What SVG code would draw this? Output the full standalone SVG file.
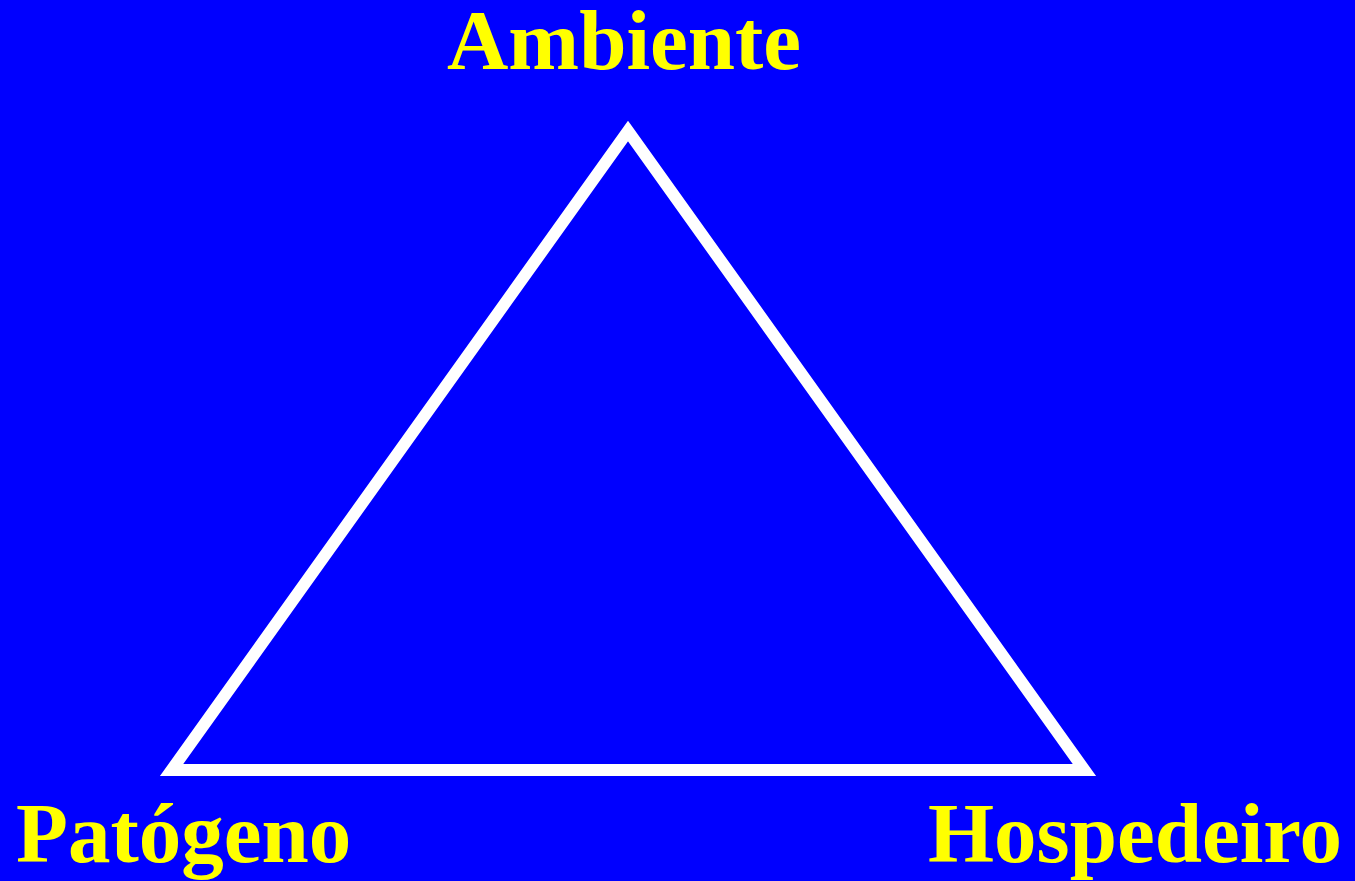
<svg xmlns="http://www.w3.org/2000/svg" width="1355" height="881" viewBox="0 0 1355 881">
<style>
.lbl{font-family:"Liberation Serif","Times New Roman",serif;font-weight:bold;font-size:85px;fill:#ffff00}
</style>
<rect width="1355" height="881" fill="#0000ff"/>
<g id="connectors">
<polygon points="628,131 1084.4,770 171.6,770" fill="none" stroke="#ffffff" stroke-width="12" stroke-linejoin="miter" stroke-miterlimit="10"/>
</g>
<g id="ambiente"><text class="lbl" x="624" y="69" text-anchor="middle">Ambiente</text></g>
<g id="patogeno"><text class="lbl" x="16" y="862">Patógeno</text></g>
<g id="hospedeiro"><text class="lbl" x="928" y="862">Hospedeiro</text></g>
</svg>
